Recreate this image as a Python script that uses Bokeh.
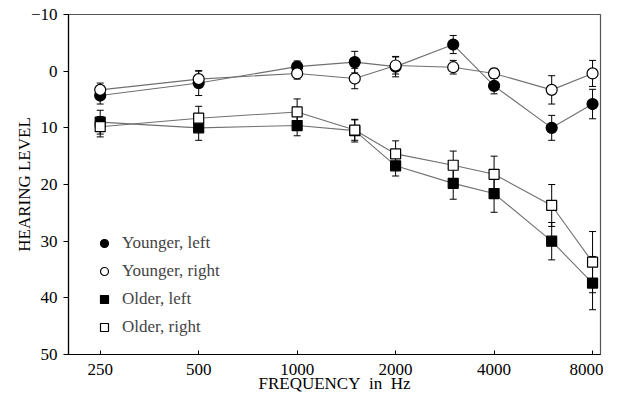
import numpy as np
from bokeh.plotting import figure
from bokeh.models import (Range1d, FixedTicker, PrintfTickFormatter, ColumnDataSource,
                          Whisker, TeeHead, Legend, LegendItem)
from bokeh.embed import file_html
from bokeh.resources import INLINE

# ---- data ----
freqs = [250, 500, 1000, 1500, 2000, 3000, 4000, 6000, 8000]
young_left = [4.3, 2.1, -0.8, -1.6, -0.8, -4.7, 2.6, 10.0, 5.8]
young_left_err = [1.5, 2.2, 1.0, 1.9, 1.8, 1.6, 1.4, 2.2, 2.6]
young_right = [3.3, 1.4, 0.4, 1.3, -1.0, -0.7, 0.4, 3.3, 0.4]
young_right_err = [1.2, 1.4, 1.0, 1.8, 1.5, 1.2, 0.9, 2.5, 2.3]
older_left = [9.0, 10.0, 9.6, 10.5, 16.7, 19.8, 21.6, 30.0, 37.4]
older_left_err = [2.1, 2.2, 1.8, 2.0, 1.8, 2.8, 3.3, 3.3, 4.7]
older_right = [9.8, 8.3, 7.2, 10.4, 14.6, 16.6, 18.2, 23.7, 33.7]
older_right_err = [1.8, 2.1, 2.3, 1.8, 2.3, 2.5, 3.2, 3.7, 5.4]

x_ticks = [250, 500, 1000, 2000, 4000, 8000]
y_ticks = [-10, 0, 10, 20, 30, 40, 50]

FONT = "Liberation Serif"

p = figure(width=603, height=395, x_axis_type="log",
           x_range=Range1d(200, 8460), y_range=Range1d(50, -10),
           output_backend="svg", toolbar_location=None,
           min_border_left=68, min_border_right=3, min_border_top=14, min_border_bottom=40)
p.xgrid.visible = False
p.ygrid.visible = False
p.outline_line_color = "#555555"
p.outline_line_width = 1.2
p.background_fill_color = "white"

series = [
    ("Younger, left", young_left, young_left_err, "circle", "black", 11),
    ("Younger, right", young_right, young_right_err, "circle", "white", 11),
    ("Older, left", older_left, older_left_err, "square", "black", 10),
    ("Older, right", older_right, older_right_err, "square", "white", 10),
]

for name, vals, errs, marker, fill, size in series:
    v = np.array(vals)
    e = np.array(errs)
    src = ColumnDataSource(dict(f=freqs, v=vals, lo=list(v - e), hi=list(v + e)))
    w = Whisker(source=src, base="f", lower="lo", upper="hi", line_color="black", line_width=1,
                upper_head=TeeHead(size=7, line_color="black", line_width=1),
                lower_head=TeeHead(size=7, line_color="black", line_width=1))
    p.add_layout(w)
    p.line("f", "v", source=src, line_color="#707070", line_width=1.1)

items = []
for name, vals, errs, marker, fill, size in series:
    src = ColumnDataSource(dict(f=freqs, v=vals))
    r = p.scatter("f", "v", source=src, marker=marker, size=size, fill_color=fill,
                  line_color="black", line_width=1.2)
    items.append(LegendItem(label=name, renderers=[r]))

legend = Legend(items=items, location=(26, 17), padding=0, margin=0,
                border_line_color=None, background_fill_alpha=0,
                label_text_font=FONT, label_text_font_size="17px",
                glyph_width=20, glyph_height=20, label_height=20, spacing=8,
                label_standoff=8)
p.add_layout(legend)

# axes
p.xaxis.ticker = FixedTicker(ticks=x_ticks, minor_ticks=[])
p.xaxis.formatter = PrintfTickFormatter(format="%d")
p.xaxis.axis_label = "FREQUENCY\u00a0\u00a0in\u00a0\u00a0Hz"
p.xaxis.major_tick_in = 4
p.xaxis.major_tick_out = 0
p.xaxis.minor_tick_line_color = None
p.xaxis.major_label_standoff = 9
p.xaxis.axis_label_standoff = -4

p.yaxis.ticker = FixedTicker(ticks=y_ticks, minor_ticks=[])
p.yaxis.major_label_overrides = {-10: "\u221210"}
p.yaxis.axis_label = "HEARING LEVEL"
p.yaxis.major_tick_in = 0
p.yaxis.major_tick_out = 5
p.yaxis.minor_tick_line_color = None
p.yaxis.major_label_standoff = 6
p.yaxis.axis_label_standoff = -6

for ax in (p.xaxis[0], p.yaxis[0]):
    ax.axis_line_color = "black"
    ax.axis_line_width = 1.2
    ax.major_tick_line_color = "black"
    ax.major_label_text_font = FONT
    ax.major_label_text_font_size = "17px"
    ax.major_label_text_color = "black"
    ax.axis_label_text_font = FONT
    ax.axis_label_text_font_size = "17px"
    ax.axis_label_text_font_style = "normal"
    ax.axis_label_text_color = "black"

open("out.html", "w").write(file_html(p, INLINE))
